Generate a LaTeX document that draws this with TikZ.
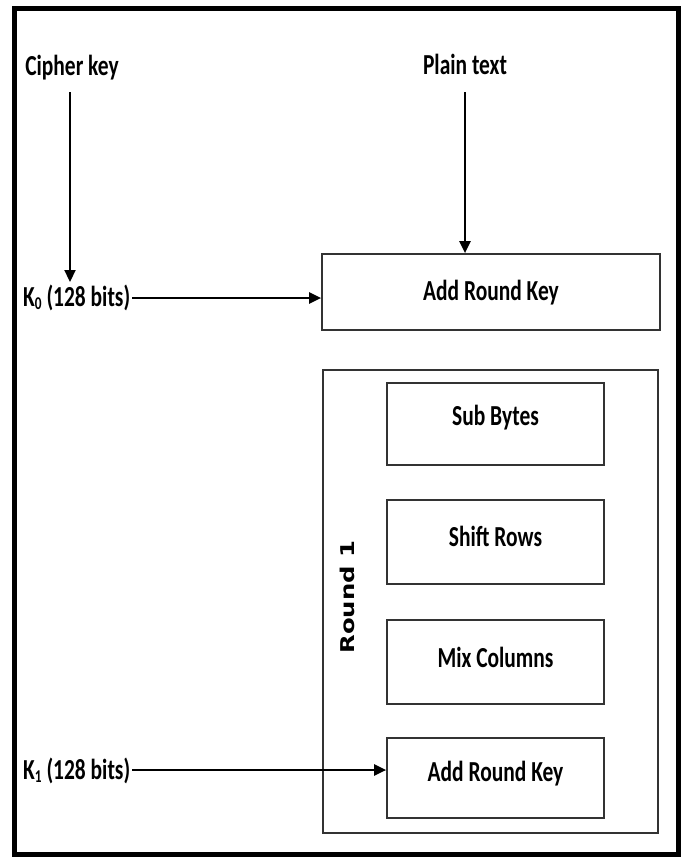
\documentclass[tikz,border=0pt]{standalone}
\usepackage{fontspec}
\usetikzlibrary{arrows.meta}
\newfontfamily\labfont[FakeStretch=0.74]{Carlito Bold}
\newfontfamily\rndfont[FakeStretch=1.28]{DejaVu Sans Bold}
\begin{document}
\begin{tikzpicture}[x=1pt,y=-1pt,
  lab/.style={font=\labfont\fontsize{29}{32}\selectfont, inner sep=0pt},
  box/.style={draw=black!80, line width=1.7pt},
  arr/.style={draw=black, line width=2.2pt, -{Triangle[length=12pt,width=11pt]}}]
\useasboundingbox (0,0) rectangle (684,857);
\fill[white] (0,0) rectangle (684,857);
\draw[line width=5pt, black] (14.5,8.5) rectangle (678.5,854.5);
% labels
\node[lab, anchor=base] (ck) at (72,75) {Cipher key};
\node[lab, anchor=base] (pt) at (465,74) {Plain text};
\node[lab, anchor=base west] (k0) at (23,306) {K\raisebox{-0.25ex}{\fontsize{18}{18}\selectfont 0} (128 bits)};
\node[lab, anchor=base west] (k1) at (23,779) {K\raisebox{-0.25ex}{\fontsize{18}{18}\selectfont 1} (128 bits)};
% boxes
\node[box, minimum width=338pt, minimum height=76pt, inner sep=0pt] (ark0) at (491,292) {};
\node[lab] at ([yshift=-1pt]ark0.center) {Add Round Key};
\node[box, minimum width=335pt, minimum height=463pt, inner sep=0pt] (round) at (490.5,601.5) {};
\node[font=\rndfont\fontsize{19}{22}\selectfont, rotate=90, inner sep=0pt] (rlab) at (347,597) {Round 1};
\node[box, minimum width=217pt, minimum height=82pt, inner sep=0pt] (sb) at (495.5,424) {};
\node[lab] at ([yshift=6pt]sb.center) {Sub Bytes};
\node[box, minimum width=217pt, minimum height=84pt, inner sep=0pt] (sr) at (495.5,542) {};
\node[lab] at ([yshift=6pt]sr.center) {Shift Rows};
\node[box, minimum width=217pt, minimum height=84pt, inner sep=0pt] (mc) at (495.5,662) {};
\node[lab] at ([yshift=5pt]mc.center) {Mix Columns};
\node[box, minimum width=217pt, minimum height=80pt, inner sep=0pt] (ark1) at (495.5,778) {};
\node[lab] at ([yshift=4pt]ark1.center) {Add Round Key};
% connectors
\coordinate (ckb) at (70,92);
\coordinate (ptb) at (465,92);
\draw[arr] (ckb) -- (70,282);
\draw[arr] (ptb) -- (ptb |- ark0.north);
\draw[arr] ([xshift=2pt]k0.east |- 0,298) -- (ark0.west |- 0,298);
\draw[arr] ([xshift=2pt]k1.east |- 0,770) -- (ark1.west |- 0,770);
\end{tikzpicture}
\end{document}
